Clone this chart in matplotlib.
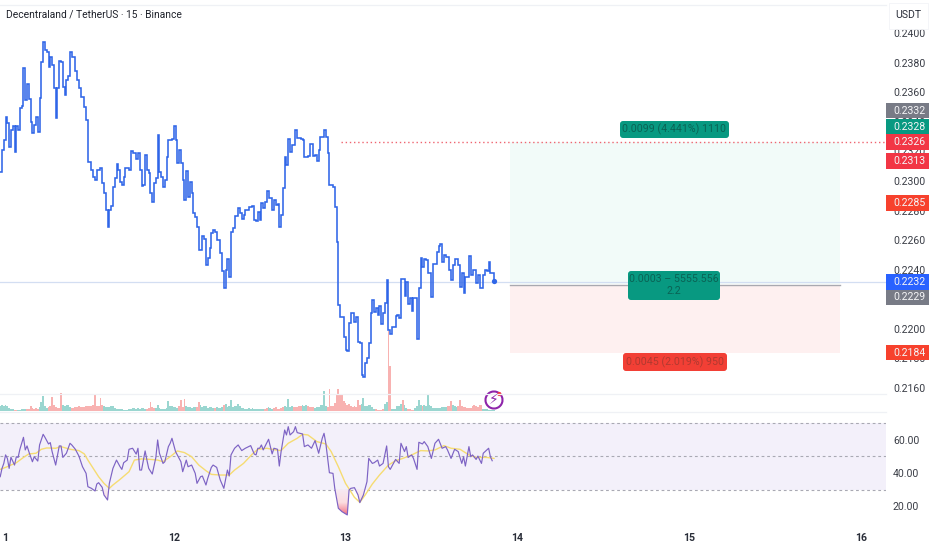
import numpy as np
import matplotlib
matplotlib.use("Agg")
import matplotlib.pyplot as plt
from matplotlib.patches import Rectangle, FancyBboxPatch, Circle, Arc
from matplotlib.path import Path
from matplotlib.colors import LinearSegmentedColormap

plt.rcParams['font.family'] = ['Roboto', 'DejaVu Sans']

# ---------- data ----------
PRICE_BARS = [-1,0,1,2,3,4,5,6,7,8,9,10,11,12,13,14,15,16,17,18,19,20,21,22,23,24,25,26,27,28,29,30,31,32,33,34,35,36,37,38,39,40,41,42,43,44,46,47,48,49,50,51,52,53,55,56,57,58,59,60,61,62,63,64,65,66,67,68,69,71,72,73,75,76,77,78,79,80,81,82,83,84,85,86,87,88,89,90,91,92,93,95,96,97,98,99,100,101,102,103,104,105,106,107,108,109,110,111,112,113,114,115,116,117,118,119,120,121,122,123,124,125,126,127,128,129,130,132,133,134,135,136,138,140,141,142,143,144,
    145,146,147,148,149,151,152,153,154,155,156,157,158,159,160,161,162,164,165,167,168,169,171,172,174,175,176,177,178,180,181,182,183,185,186,187,188,189,190,191,192,193,194,195,196,197,198,199,200,201,202,203,204,205,206,207,208,209,210,211,212,213,214,215,216,217,218,220,221,222,223,225,226,227,228,229,230,232,233,234,235,236,237,238,239,240,241,243,244,245,246,247,248,250,251,252,253,254,255,256,257,258,259,261,262,263,265,266,267,269,270,271,272,273,275]
PRICE_VALUES = [.23063,.23209,.23277,.23434,.23389,.23232,.23344,.23371,.23198,.23371,.23344,.23491,.23506,.23761,.23547,.23653,.23552,.23401,.23322,.23378,.23434,.23333,.23558,.23806,.23941,.23885,.23874,.23772,.23835,.23784,.23626,.23423,.23626,.23813,.23806,.23633,.23581,.23682,.23709,.23874,.23840,.23840,.23745,.23682,.23626,.23570,.23502,.23412,.23130,.23130,.23074,.23029,.23006,.23074,.23090,.22984,.22916,.22804,.22691,.22804,.22831,.22961,.23018,.23115,.23074,.22995,.22973,.23029,.23085,.23074,.23202,.23191,.23146,.23191,.23074,.22966,.22973,.23175,.23074,.23051,.22916,.22860,.22984,.23018,.23311,.23063,.23029,.22961,.23006,.23164,.23277,.23281,.23371,.23277,.23119,.23209,.23119,.23006,.22871,.23069,.22894,.22995,.22916,.22781,.22758,.22691,.22533,.22533,.22627,.22605,.22431,.22477,.22544,.22646,.22668,.22657,.22600,.22600,.22510,.22393,.22274,.22398,.22470,.22353,.22657,.22679,.22763,.22814,.22781,.22740,.22769,.22803,.22826,.22830,.22736,.22731,.22792,.22736,
    .22849,.22815,.22860,.22934,.22883,.22804,.22871,.22837,.22844,.22691,.22770,.22950,.23164,.23108,.23281,.23198,.23243,.23344,.23288,.23281,.23277,.23164,.23169,.23250,.23169,.23175,.23137,.23209,.23299,.23344,.23299,.23187,.22973,.22961,.22822,.22590,.22162,.22083,.22078,.21943,.21857,.21853,.22038,.22105,.22110,.22049,.22083,.21914,.21907,.21688,.21673,.21767,.21801,.21902,.22110,.22195,.22116,.22139,.22094,.22155,.22033,.22105,.22173,.22331,.21993,.21966,.22015,.22089,.22094,.22071,.22335,.22222,.22319,.22168,.22207,.22123,.22207,.21930,.22274,.22477,.22421,.22470,.22466,.22380,.22376,.22213,.22439,.22522,.22560,.22574,.22454,.22499,.22488,.22398,.22331,.22432,.22470,.22470,.22432,.22286,.22376,.22245,.22353,.22493,.22364,.22398,.22313,.22364,.22274,.22364,.22398,.22394,.22454,.22376,.22324]

VOLUME = [5,6,5,6,5,3,2,2,1,1,1,
    1,2,2,2,2,2,5,3,2,3,
    2,4,9,15,5,3,4,5,14,6,
    4,3,3,18,6,5,6,6,4,3,
    3,4,4,5,4,4,4,5,5,5,
    5,6,17,5,5,13,6,5,4,4,
    4,5,5,3,2,2,2,2,1,1,
    1,2,2,3,3,2,3,2,3,3,
    2,2,3,9,4,3,3,6,3,2,
    2,2,3,10,5,5,4,4,3,5,
    11,4,12,5,4,4,3,4,4,4,
    9,6,4,5,5,3,4,4,3,3,
    4,3,3,4,6,7,4,5,11,4,
    5,5,7,5,3,3,2,2,3,2,3,2,2,2,
    2,2,2,2,3,4,3,2,3,4,2,2,3,4,5,4,12,4,5,4,
    4,4,5,5,6,5,6,5,4,4,4,3,4,4,6,6,20,5,4,22,5,
    5,8,17,22,17,16,10,8,6,7,5,4,5,4,11,6,7,13,5,
    5,6,6,4,2,2,1,1,1,2,7,9,80,45,2,2,2,5,5,7,11,6,3,2,2,1,1,3,5,11,6,5,6,5,17,6,5,3,3,3,3,3,4,4,4,5,5,10,6,5,4,5,11,5,4,4,3,3,3,5,6,5,4,6,6,2,2,2,1,1,1,1]
VOLUME_UP_RUNS = [(-1,6),(9,13),(21,25),(34,38),(57,80),(86,98),(103,108),(111,118),(120,123),(125,143),(144,146),(149,151),(158,162),(168,170),(175,181),(201,208),(214,215),(218,223),(225,226),(231,234),(236,248),(252,254),(269,275)]

RSI_BARS = [-1,0,1,2,3,4,5,7,8,9,10,12,13,14,15,17,18,20,21,23,24,26,27,28,30,32,33,34,36,38,39,41,43,45,47,48,50,52,53,54,56,57,59,60,62,64,66,67,68,70,71,73,75,76,77,78,80,81,82,84,86,87,88,90,91,93,94,95,97,98,100,101,103,104,106,108,109,111,112,114,115,117,118,120,122,124,126,127,128,130,132,134,136,139,140,141,142,143,
    144,145,146,149,151,152,154,155,156,158,159,160,161,163,164,165,168,169,171,173,175,177,179,180,181,183,185,186,188,190,193,194,195,197,199,200,202,204,205,207,208,210,211,213,215,216,217,220,222,223,225,226,227,229,230,232,233,235,236,238,240,242,244,246,248,249,251,253,255,257,258,259,261,262,263,265,266,268,269,272,273,274]
RSI_VALUES = [37.7,42.7,45.7,50.8,48.7,42.7,49.4,44.7,49.7,49.3,54.2,61.4,53.8,56.2,52.8,46.7,49.7,47.1,56.8,63.2,61.4,57.4,58.2,52.8,44.7,56.2,56.2,49.3,51.8,57.8,56.8,54.2,50.1,43.7,39.7,31.7,30.7,29.1,33.3,34.1,31.3,26.7,23.7,33.7,42.7,47.7,43.7,42.1,46.1,47.7,54.2,54.8,51.3,54.8,41.7,41.7,53.2,47.7,42.7,39.3,49.3,59.8,51.8,45.7,46.7,55.8,57.8,60.8,52.8,50.8,46.7,40.7,47.7,43.7,44.7,39.7,33.7,37.7,38.1,32.7,36.7,43.3,44.7,43.3,35.7,30.7,41.7,38.1,50.8,54.8,56.8,53.4,54.8,56.4,53.8,51.3,50.8,54.8,
    54.8,56.8,53.8,60.2,51.4,54.8,54.2,44.1,52.8,65.8,62.8,67.8,62.8,64.8,67.8,64.2,63.4,55.8,56.8,54.8,59.4,51.8,60.8,63.8,57.8,40.1,39.7,30.7,18.7,16.7,14.7,29.7,30.7,31.1,26.7,22.1,26.7,34.7,48.7,45.7,46.1,47.7,44.1,45.7,56.2,43.7,42.1,48.1,45.7,57.8,52.8,55.8,49.3,50.8,48.7,42.1,58.4,57.4,58.8,55.8,48.7,57.8,60.2,54.8,55.8,53.8,48.7,54.2,52.8,45.7,49.7,44.1,55.8,49.7,50.8,48.1,50.1,45.7,51.8,54.8,49.7,47.3]
RSI_MA_BARS = [-1,2,5,8,12,15,19,22,25,30,33,38,43,46,48,51,54,57,60,62,66,71,74,78,83,87,90,94,98,102,106,110,114,117,122,127,130,135,140,143,
    148,153,156,160,165,168,171,176,181,184,188,192,195,197,200,203,207,211,216,220,224,229,234,238,242,247,251,256,261,265,271,275]
RSI_MA_VALUES = [42.1,43.3,44.7,46.1,49.3,51.4,51.8,54.2,55.0,54.8,55.8,54.2,53.4,51.4,47.7,42.7,37.7,33.7,30.7,32.7,36.1,40.7,47.7,48.4,48.1,47.7,46.7,49.7,53.2,52.2,49.7,44.7,41.3,39.1,38.7,38.7,41.7,45.7,51.4,54.2,
    54.8,53.8,53.4,57.8,60.8,63.2,62.8,58.8,57.4,52.8,43.7,33.7,28.7,25.3,22.3,26.7,33.3,38.7,44.7,47.3,48.7,50.8,53.4,53.2,53.8,56.4,54.8,54.2,50.8,49.3,49.3,48.7]

LAST_PRICE = 0.2232
TARGET_PRICE = 0.2326
ENTRY_PRICE = 0.2229
STOP_PRICE = 0.2184
POSITION_START_BAR = 284
POSITION_END_BAR = 468.4
TARGET_LINE_START_BAR = 189.5

DAY_TICKS = [1.7, 96, 192, 288, 384, 480]
DAY_LABELS = ['1', '12', '13', '14', '15', '16']
PRICE_TICKS = [0.2400,0.2380,0.2360,0.2340,0.2320,0.2300,0.2280,0.2260,0.2240,0.2220,0.2200,0.2180,0.2160]
RSI_TICKS = [60, 40, 20]
RSI_BANDS = [70, 50, 30]

TITLE = 'Decentraland / TetherUS · 15 · Binance'
PRICE_TAGS = ['0.2332','0.2328','0.2326','0.2313','0.2285','0.2232','0.2229','0.2184']
TAG_COLORS = ['#787b86','#089981','#f23645','#f23645','#f7412d','#2962ff','#787b86','#f7412d']
TAG_CENTERS_PX = [110.5,126.5,142,161,203,282,297.5,352.5]
BOX_TEXTS = ['0.0099 (4.441%) 1110', '0.0003 – 5555.556\n2.2', '0.0045 (2.019%) 950']

# ---------- layout ----------
W, H = 932, 550
PANE_R = 886
AXIS_FS = 7.6
fig = plt.figure(figsize=(W/100, H/100), dpi=100, facecolor='white')
def axes_px(x0, y0, x1, y1):
    return fig.add_axes([x0/W, 1-y1/H, (x1-x0)/W, (y1-y0)/H])

PX_PER_BAR = 171.75/96
xlim = (-2/PX_PER_BAR, (PANE_R-2)/PX_PER_BAR)
price_at = lambda y: 0.24 - (y-33)/14792
rsi_at = lambda y: 70 - (y-423)/1.6625

ax = axes_px(0, 6, PANE_R, 411)
vol = ax.twinx()
ax.set_zorder(vol.get_zorder()+1)
ax.patch.set_visible(False)
ax.set_xlim(*xlim)
ax.set_ylim(price_at(411), price_at(6))
vol.set_ylim(0, 405)

# volume
colors = ['#9ad6d0' if any(a <= i <= b for a, b in VOLUME_UP_RUNS) else '#f8b2b1'
          for i in range(-1, len(VOLUME)-1)]
vol.bar(np.arange(-1, len(VOLUME)-1), VOLUME, width=1.0, color=colors, linewidth=0)
vol.set_yticks([])

# position tool
ax.add_patch(Rectangle((POSITION_START_BAR, ENTRY_PRICE+0.00012), POSITION_END_BAR-POSITION_START_BAR,
                       TARGET_PRICE-ENTRY_PRICE-0.00012, fc='#f2fbf9', ec='none', zorder=1))
ax.add_patch(Rectangle((POSITION_START_BAR, STOP_PRICE), POSITION_END_BAR-POSITION_START_BAR,
                       ENTRY_PRICE-STOP_PRICE, fc='#fef0f0', ec='none', zorder=1))
ax.plot([POSITION_START_BAR, POSITION_END_BAR], [ENTRY_PRICE+0.00008]*2, color='#a9a9b0', lw=1.0, zorder=2)
ax.plot([TARGET_LINE_START_BAR, xlim[1]], [TARGET_PRICE]*2, color='#ef6470', lw=1.0, ls=(0, (1, 2)), zorder=2)
ax.axhline(LAST_PRICE, color='#d3def2', lw=0.9, zorder=1.5)

# price line
ax.step(PRICE_BARS, PRICE_VALUES, where='post', color='#2f66e8', lw=1.15, zorder=3, solid_joinstyle='miter')
ax.plot(PRICE_BARS[-1:], PRICE_VALUES[-1:], 'o', color='#2f66e8', ms=3.8, zorder=4, mec='none')

for s in ax.spines.values():
    s.set_visible(False)
for s in vol.spines.values():
    s.set_visible(False)
ax.set_xticks([])
ax.yaxis.tick_right()
ax.set_yticks(PRICE_TICKS)
ax.set_yticklabels([f'{t:.4f}' for t in PRICE_TICKS])
ax.tick_params(axis='y', length=0, pad=5.0, labelsize=AXIS_FS, labelcolor='#3a3d46')
vol.yaxis.set_visible(False)

# RSI pane
rs = axes_px(0, 412, PANE_R, 525)
rs.set_xlim(*xlim)
rs.set_ylim(rsi_at(525), rsi_at(412))
rs.axhspan(RSI_BANDS[2], RSI_BANDS[0], color='#f3f0fa', lw=0, zorder=0)
for level in RSI_BANDS:
    rs.axhline(level, color='#a9a9b3', lw=0.8, ls=(0, (2.5, 2.5)), zorder=1)
rx = np.array(RSI_BARS, float)
ry = np.array(RSI_VALUES, float)
poly = rs.fill_between(rx, ry, RSI_BANDS[2], where=ry < RSI_BANDS[2], interpolate=True, color='none', lw=0)
cmap = LinearSegmentedColormap.from_list('os', ['#f0667a', '#fcdde0', '#f7eaf3'])
im = rs.imshow(np.linspace(0, 1, 64)[:, None], extent=[xlim[0], xlim[1], 14, 30], origin='lower',
               aspect='auto', cmap=cmap, zorder=1.5)
im.set_clip_path(Path.make_compound_path(*poly.get_paths()), transform=rs.transData)
rs.set_xlim(*xlim)
rs.set_ylim(rsi_at(525), rsi_at(412))
rs.plot(RSI_MA_BARS, RSI_MA_VALUES, color='#f6dc72', lw=1.0, zorder=2)
rs.plot(RSI_BARS, RSI_VALUES, color='#7d63c4', lw=0.85, zorder=3)
for s in rs.spines.values():
    s.set_visible(False)
rs.yaxis.tick_right()
rs.set_yticks(RSI_TICKS)
rs.set_yticklabels([f'{t:.2f}' for t in RSI_TICKS])
rs.tick_params(axis='y', length=0, pad=5.0, labelsize=AXIS_FS, labelcolor='#3a3d46')
rs.set_xticks(DAY_TICKS)
rs.set_xticklabels(DAY_LABELS, fontweight='bold', fontsize=7.6, color='#2a2e39')
rs.tick_params(axis='x', length=0, pad=5.5)

# overlay in picture pixels for the chart furniture
ov = fig.add_axes([0, 0, 1, 1], zorder=10)
ov.set_xlim(0, W); ov.set_ylim(H, 0); ov.axis('off'); ov.patch.set_visible(False)
for y, x1 in [(5, 886), (394, 886), (411.7, 886)]:
    ov.plot([0, x1], [y, y], color='#eff1f5', lw=0.9)
ov.text(6, 14.5, TITLE, fontsize=7.35, color='#1f222b', va='center', ha='left')
ov.add_patch(Rectangle((889, 3), 39, 26, fc='white', ec='#f3f4f7', lw=0.6))
ov.text(908.5, 15, 'USDT', fontsize=7.6, color='#2a2e39', va='center', ha='center')

for label, color, cy in zip(PRICE_TAGS, TAG_COLORS, TAG_CENTERS_PX):
    ov.add_patch(Rectangle((886, cy-7.8), 43, 15.6, fc=color, ec='none'))
    ov.text(909, cy, label, fontsize=AXIS_FS, color='#f4f4f6', va='center', ha='center')

boxes = [(620, 121, 729, 138, '#089981'), (628, 271, 720, 300, '#089981'), (623, 353, 727, 371, '#f23f35')]
ink = ['#0a6355', '#0a6355', '#b03a30']
for (x0, y0, x1, y1, c), text, tc in zip(boxes, BOX_TEXTS, ink):
    ov.add_patch(FancyBboxPatch((x0+2, y0+2), x1-x0-4, y1-y0-4, boxstyle='round,pad=2,rounding_size=3', fc=c, ec='none'))
    ov.text((x0+x1)/2, (y0+y1)/2, text, fontsize=7.7, color=tc, ha='center', va='center', linespacing=1.25)

# alert badge
ov.add_patch(Arc((494, 400), 17, 17, theta1=0, theta2=360, ec='#8e24aa', lw=1.5))
ov.add_patch(Circle((499.3, 394), 2.1, fc='#f23645', ec='none'))
ov.text(494, 400.3, '⚡', fontsize=10, color='#8e24aa', ha='center', va='center', family=['DejaVu Sans'])

fig.savefig('out.png', dpi=100)
